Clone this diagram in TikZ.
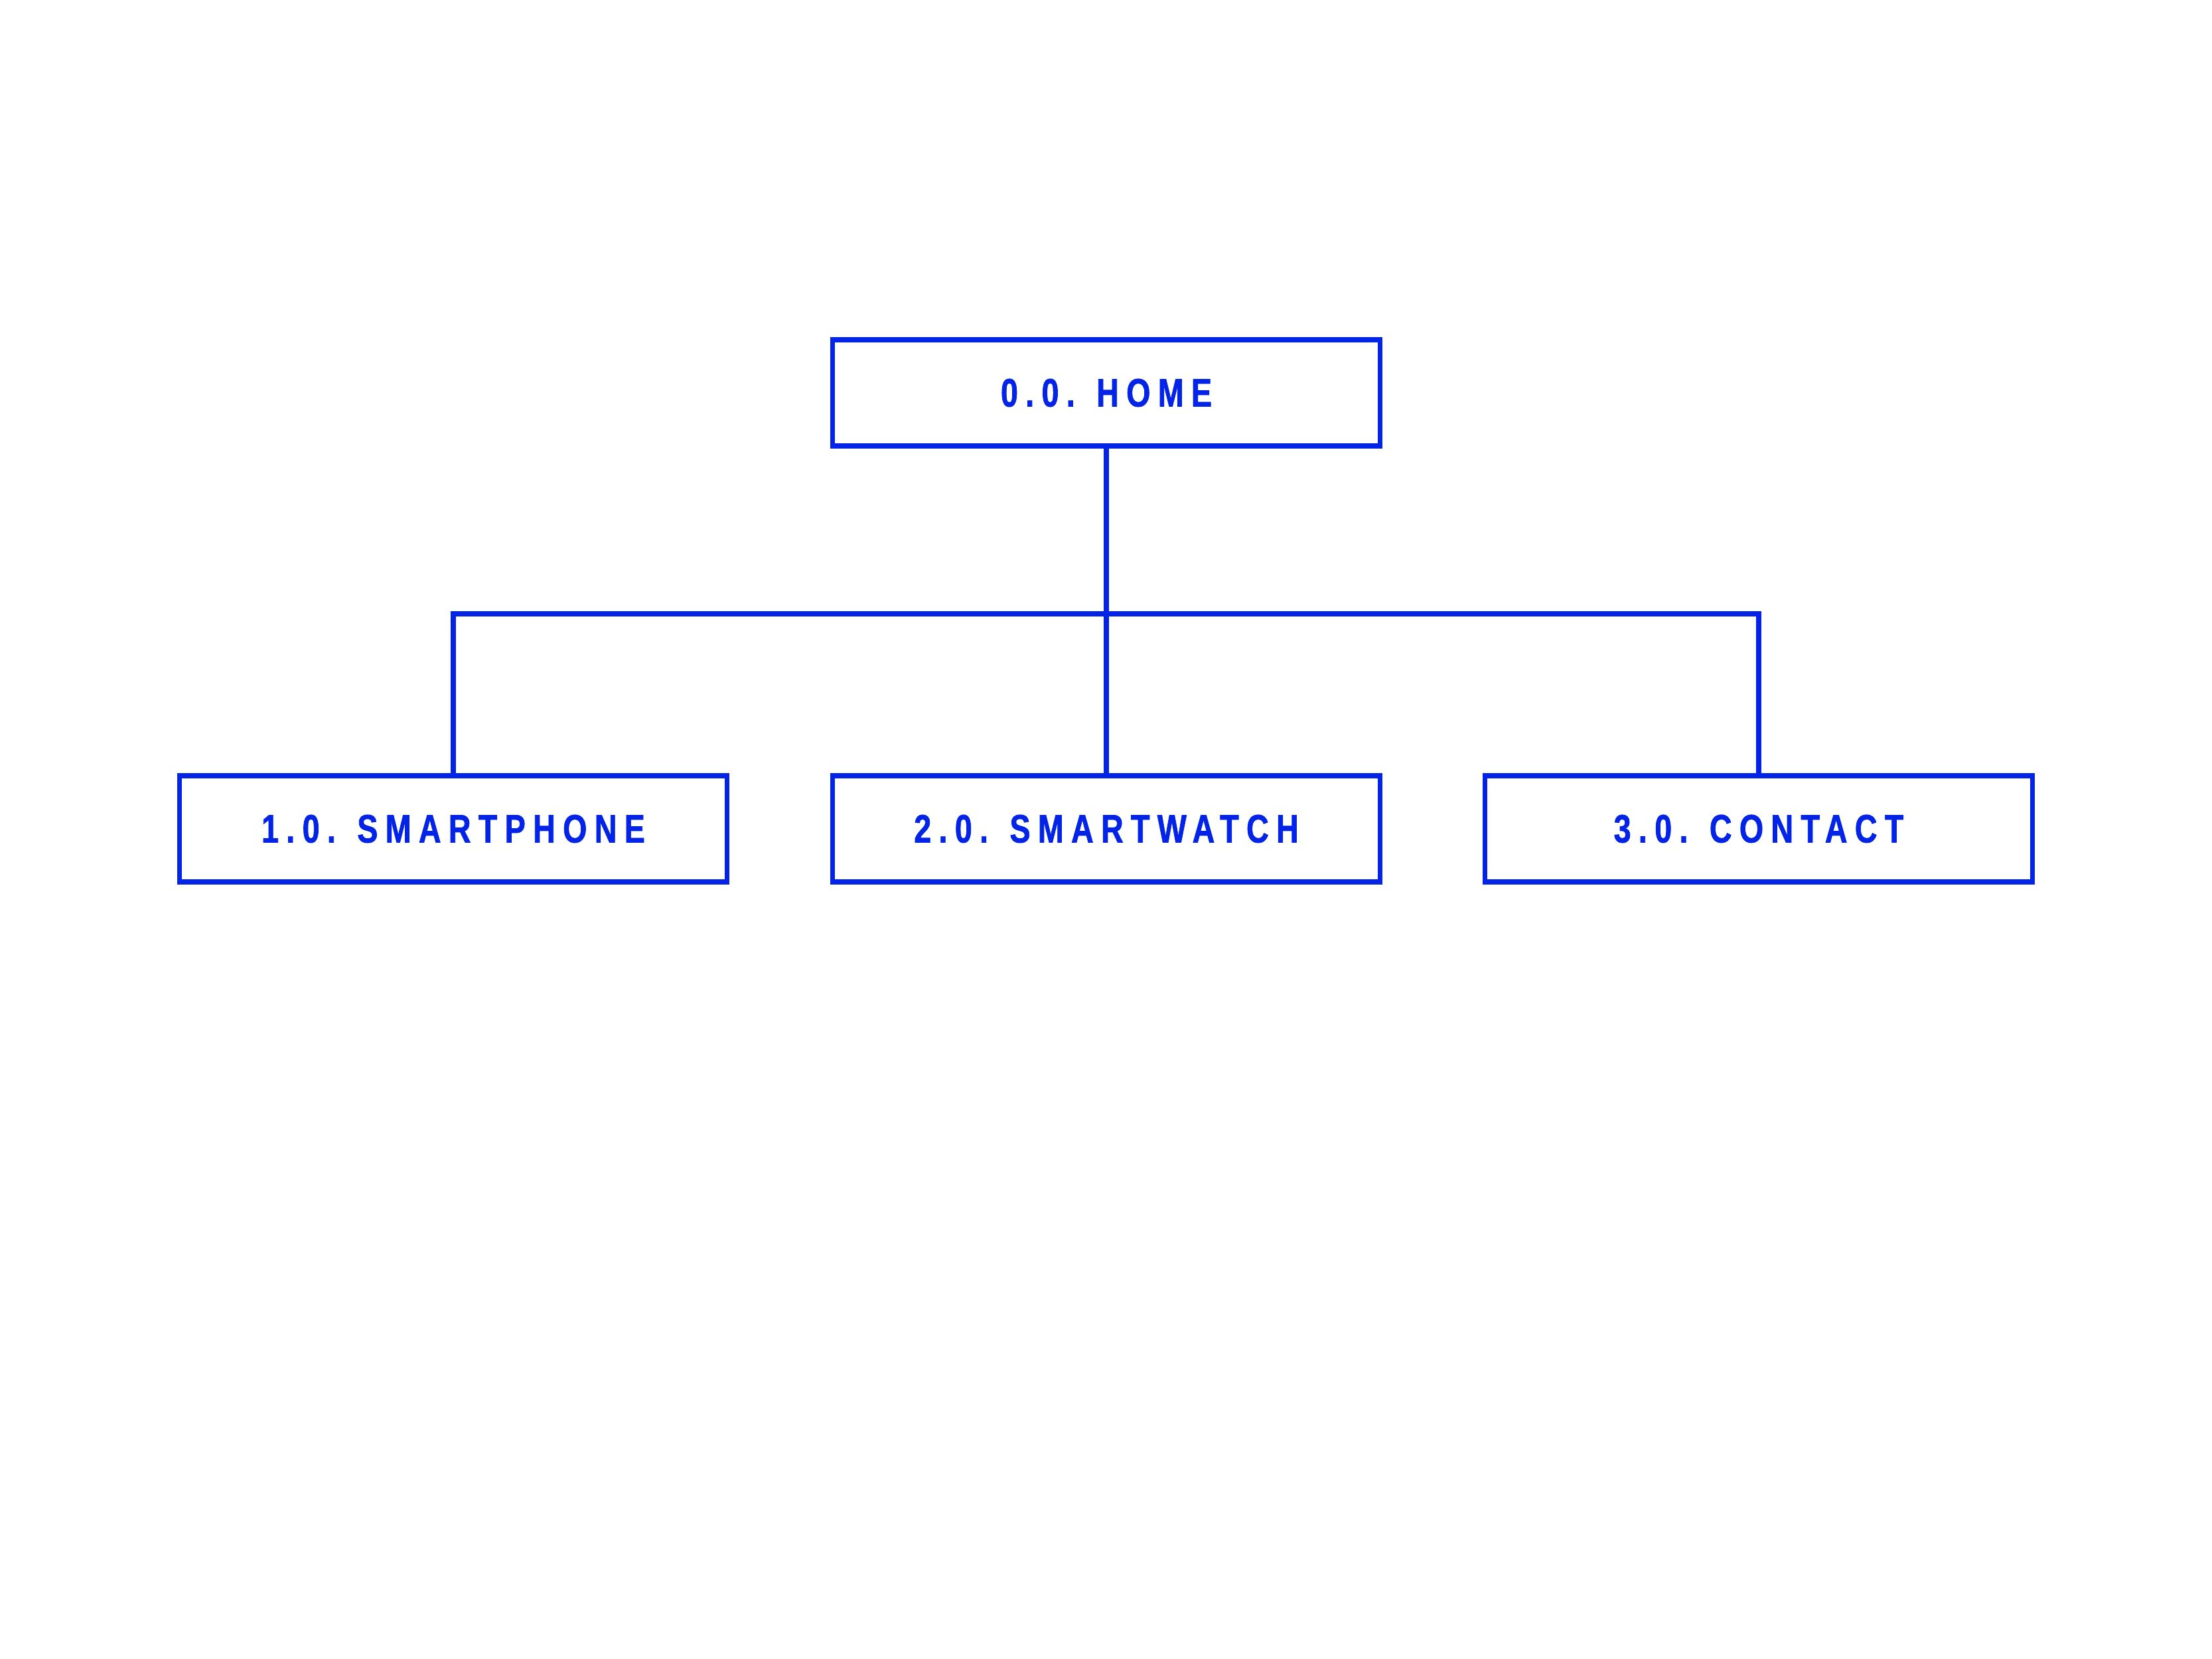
\documentclass[tikz,border=0pt]{standalone}
\usepackage{xcolor}
\usepackage{fontspec}
\usepackage{tikz}
\usetikzlibrary{positioning}
\newfontfamily\sitemapfont{Liberation Sans}[FakeStretch=0.78, LetterSpace=19, FakeBold=1.2]
\definecolor{siteblue}{RGB}{3,35,230}

\begin{document}
\begin{tikzpicture}[
			page/.style={draw=siteblue, line width=2.2pt, minimum width=8.25cm, minimum height=1.6cm, text=siteblue, font=\sitemapfont\bfseries\fontsize{17}{20}\selectfont},
			link/.style={draw=siteblue, line width=2.2pt}]

			\useasboundingbox (0,0) rectangle (33.33,25);

			\node[page] (home) at (16.67,19.08) {0.0. HOME};
			\node[page] (phone) at (6.83,12.51) {1.0. SMARTPHONE};
			\node[page] (watch) at (16.67,12.51) {2.0. SMARTWATCH};
			\node[page] (contact) at (26.50,12.51) {3.0. CONTACT};

			\coordinate (bus) at (16.67,15.75);
			\draw[link] (home.south) -- (bus);
			\draw[link] (phone.north) |- (bus) -| (contact.north);
			\draw[link] (bus) -- (watch.north);
		\end{tikzpicture}
\end{document}
